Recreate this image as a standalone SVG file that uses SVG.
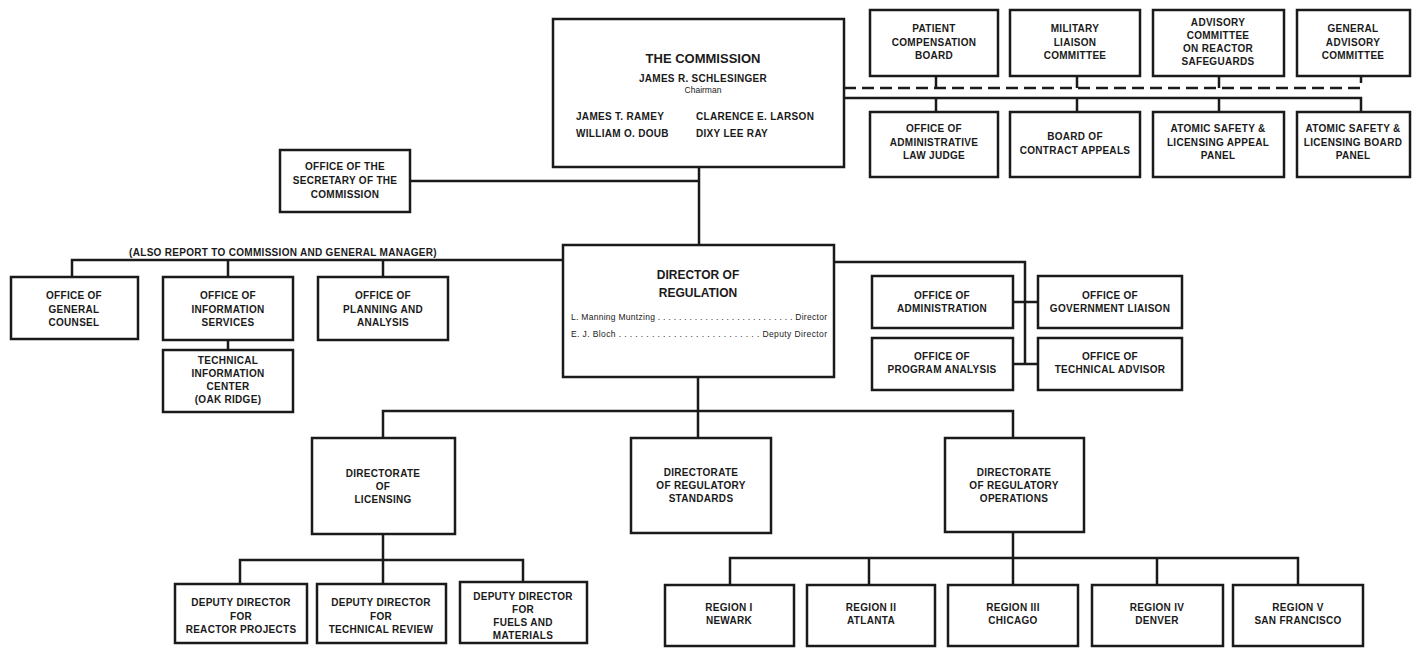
<svg xmlns="http://www.w3.org/2000/svg" width="1423" height="648" viewBox="0 0 1423 648">
<style>
.bx{fill:#fff;stroke:#1a1a1a;stroke-width:2.5}
.ln{fill:none;stroke:#1a1a1a;stroke-width:2.5}
.ds{stroke-dasharray:12 6}
text{font-family:"Liberation Sans",Arial,sans-serif;fill:#1a1a1a}
.t{font-size:10px;font-weight:bold;letter-spacing:0.3px;text-anchor:middle}
.l{font-size:10px;font-weight:bold;letter-spacing:0.3px;text-anchor:start}
.h{font-size:13px;font-weight:bold;text-anchor:middle}
.s{font-size:8.5px}
</style>
<rect width="1423" height="648" fill="#fff"/>
<g id="connectors">
<path class="ln ds" d="M844 88H1361V76M936 88V76M1077 88V76M1219 88V76"/>
<path class="ln" d="M844 98H1361V112M936 98V112M1077 98V112M1219 98V112"/>
<path class="ln" d="M699 167V245M410 181H699"/>
<path class="ln" d="M563 260H72V277M228 260V277M383 260V277M228 340V350"/>
<path class="ln" d="M834 262H1025V364M1013 302H1038M1013 364H1038"/>
<path class="ln" d="M698 377V411M383 438V411H1013V438M698 411V438"/>
<path class="ln" d="M383 534V560M240 584V560H523V582M383 560V584"/>
<path class="ln" d="M1013 532V558M730 585V558H1298V585M869 558V585M1013 558V585M1157 558V585"/>
</g>
<g id="commission">
<rect class="bx" x="553" y="19" width="291" height="148"/>
<text class="h" x="703" y="63">THE COMMISSION</text>
<text class="t" x="703" y="82">JAMES R. SCHLESINGER</text>
<text class="s" x="703" y="93" text-anchor="middle">Chairman</text>
<text class="l" x="576" y="120">JAMES T. RAMEY</text>
<text class="l" x="696" y="120">CLARENCE E. LARSON</text>
<text class="l" x="576" y="137">WILLIAM O. DOUB</text>
<text class="l" x="696" y="137">DIXY LEE RAY</text>
</g>
<g id="patient">
<rect class="bx" x="870" y="10" width="128" height="66"/>
<text class="t" x="934" y="32"><tspan x="934">PATIENT</tspan><tspan x="934" dy="13.5">COMPENSATION</tspan><tspan x="934" dy="13.5">BOARD</tspan></text>
</g>
<g id="military">
<rect class="bx" x="1010" y="10" width="130" height="66"/>
<text class="t" x="1075" y="32"><tspan x="1075">MILITARY</tspan><tspan x="1075" dy="13.5">LIAISON</tspan><tspan x="1075" dy="13.5">COMMITTEE</tspan></text>
</g>
<g id="acrs">
<rect class="bx" x="1153" y="10" width="131" height="66"/>
<text class="t" x="1218" y="26"><tspan x="1218">ADVISORY</tspan><tspan x="1218" dy="13">COMMITTEE</tspan><tspan x="1218" dy="13">ON REACTOR</tspan><tspan x="1218" dy="13">SAFEGUARDS</tspan></text>
</g>
<g id="gac">
<rect class="bx" x="1297" y="10" width="113" height="66"/>
<text class="t" x="1353" y="32"><tspan x="1353">GENERAL</tspan><tspan x="1353" dy="13.5">ADVISORY</tspan><tspan x="1353" dy="13.5">COMMITTEE</tspan></text>
</g>
<g id="alj">
<rect class="bx" x="870" y="112" width="128" height="65"/>
<text class="t" x="934" y="132"><tspan x="934">OFFICE OF</tspan><tspan x="934" dy="13.5">ADMINISTRATIVE</tspan><tspan x="934" dy="13.5">LAW JUDGE</tspan></text>
</g>
<g id="bca">
<rect class="bx" x="1010" y="112" width="130" height="65"/>
<text class="t" x="1075" y="140"><tspan x="1075">BOARD OF</tspan><tspan x="1075" dy="13.5">CONTRACT APPEALS</tspan></text>
</g>
<g id="aslap">
<rect class="bx" x="1153" y="112" width="131" height="65"/>
<text class="t" x="1218" y="132"><tspan x="1218">ATOMIC SAFETY &amp;</tspan><tspan x="1218" dy="13.5">LICENSING APPEAL</tspan><tspan x="1218" dy="13.5">PANEL</tspan></text>
</g>
<g id="aslbp">
<rect class="bx" x="1297" y="112" width="113" height="65"/>
<text class="t" x="1353" y="132"><tspan x="1353">ATOMIC SAFETY &amp;</tspan><tspan x="1353" dy="13.5">LICENSING BOARD</tspan><tspan x="1353" dy="13.5">PANEL</tspan></text>
</g>
<g id="secretary">
<rect class="bx" x="280" y="150" width="130" height="62"/>
<text class="t" x="345" y="170"><tspan x="345">OFFICE OF THE</tspan><tspan x="345" dy="14">SECRETARY OF THE</tspan><tspan x="345" dy="14">COMMISSION</tspan></text>
</g>
<text id="also-note" class="t" x="283" y="256">(ALSO REPORT TO COMMISSION AND GENERAL MANAGER)</text>
<g id="counsel">
<rect class="bx" x="11" y="277" width="127" height="62"/>
<text class="t" x="74" y="299"><tspan x="74">OFFICE OF</tspan><tspan x="74" dy="13.5">GENERAL</tspan><tspan x="74" dy="13.5">COUNSEL</tspan></text>
</g>
<g id="info">
<rect class="bx" x="163" y="277" width="130" height="63"/>
<text class="t" x="228" y="299"><tspan x="228">OFFICE OF</tspan><tspan x="228" dy="13.5">INFORMATION</tspan><tspan x="228" dy="13.5">SERVICES</tspan></text>
</g>
<g id="planning">
<rect class="bx" x="318" y="277" width="130" height="63"/>
<text class="t" x="383" y="299"><tspan x="383">OFFICE OF</tspan><tspan x="383" dy="13.5">PLANNING AND</tspan><tspan x="383" dy="13.5">ANALYSIS</tspan></text>
</g>
<g id="tic">
<rect class="bx" x="163" y="350" width="130" height="62"/>
<text class="t" x="228" y="363.5"><tspan x="228">TECHNICAL</tspan><tspan x="228" dy="13.3">INFORMATION</tspan><tspan x="228" dy="13.3">CENTER</tspan><tspan x="228" dy="13.3">(OAK RIDGE)</tspan></text>
</g>
<g id="director">
<rect class="bx" x="563" y="245" width="271" height="132"/>
<text class="h" x="698" y="279" style="font-size:12px">DIRECTOR OF</text>
<text class="h" x="698" y="297" style="font-size:12px">REGULATION</text>
<text class="s" x="571" y="320" textLength="256" lengthAdjust="spacing">L. Manning Muntzing . . . . . . . . . . . . . . . . . . . . . . . . . . Director</text>
<text class="s" x="571" y="337" textLength="256" lengthAdjust="spacing">E. J. Bloch . . . . . . . . . . . . . . . . . . . . . . . . . . Deputy Director</text>
</g>
<g id="admin">
<rect class="bx" x="872" y="276" width="141" height="52"/>
<text class="t" x="942" y="299"><tspan x="942">OFFICE OF</tspan><tspan x="942" dy="13">ADMINISTRATION</tspan></text>
</g>
<g id="govliaison">
<rect class="bx" x="1038" y="276" width="144" height="52"/>
<text class="t" x="1110" y="299"><tspan x="1110">OFFICE OF</tspan><tspan x="1110" dy="13">GOVERNMENT LIAISON</tspan></text>
</g>
<g id="proganalysis">
<rect class="bx" x="872" y="338" width="141" height="52"/>
<text class="t" x="942" y="360"><tspan x="942">OFFICE OF</tspan><tspan x="942" dy="13">PROGRAM ANALYSIS</tspan></text>
</g>
<g id="techadvisor">
<rect class="bx" x="1038" y="338" width="144" height="52"/>
<text class="t" x="1110" y="360"><tspan x="1110">OFFICE OF</tspan><tspan x="1110" dy="13">TECHNICAL ADVISOR</tspan></text>
</g>
<g id="licensing">
<rect class="bx" x="312" y="438" width="143" height="96"/>
<text class="t" x="383" y="477"><tspan x="383">DIRECTORATE</tspan><tspan x="383" dy="13">OF</tspan><tspan x="383" dy="13">LICENSING</tspan></text>
</g>
<g id="standards">
<rect class="bx" x="631" y="438" width="140" height="95"/>
<text class="t" x="701" y="476"><tspan x="701">DIRECTORATE</tspan><tspan x="701" dy="13">OF REGULATORY</tspan><tspan x="701" dy="13">STANDARDS</tspan></text>
</g>
<g id="operations">
<rect class="bx" x="945" y="438" width="139" height="94"/>
<text class="t" x="1014" y="476"><tspan x="1014">DIRECTORATE</tspan><tspan x="1014" dy="13">OF REGULATORY</tspan><tspan x="1014" dy="13">OPERATIONS</tspan></text>
</g>
<g id="reactor">
<rect class="bx" x="175" y="584" width="132" height="59"/>
<text class="t" x="241" y="606"><tspan x="241">DEPUTY DIRECTOR</tspan><tspan x="241" dy="13.5">FOR</tspan><tspan x="241" dy="13.5">REACTOR PROJECTS</tspan></text>
</g>
<g id="techreview">
<rect class="bx" x="317" y="584" width="129" height="59"/>
<text class="t" x="381" y="606"><tspan x="381">DEPUTY DIRECTOR</tspan><tspan x="381" dy="13.5">FOR</tspan><tspan x="381" dy="13.5">TECHNICAL REVIEW</tspan></text>
</g>
<g id="fuels">
<rect class="bx" x="460" y="582" width="127" height="61"/>
<text class="t" x="523" y="600"><tspan x="523">DEPUTY DIRECTOR</tspan><tspan x="523" dy="13">FOR</tspan><tspan x="523" dy="13">FUELS AND</tspan><tspan x="523" dy="13">MATERIALS</tspan></text>
</g>
<g id="region1">
<rect class="bx" x="665" y="585" width="129" height="61"/>
<text class="t" x="729" y="611"><tspan x="729">REGION I</tspan><tspan x="729" dy="13">NEWARK</tspan></text>
</g>
<g id="region2">
<rect class="bx" x="807" y="585" width="128" height="61"/>
<text class="t" x="871" y="611"><tspan x="871">REGION II</tspan><tspan x="871" dy="13">ATLANTA</tspan></text>
</g>
<g id="region3">
<rect class="bx" x="948" y="585" width="130" height="61"/>
<text class="t" x="1013" y="611"><tspan x="1013">REGION III</tspan><tspan x="1013" dy="13">CHICAGO</tspan></text>
</g>
<g id="region4">
<rect class="bx" x="1092" y="585" width="131" height="61"/>
<text class="t" x="1157" y="611"><tspan x="1157">REGION IV</tspan><tspan x="1157" dy="13">DENVER</tspan></text>
</g>
<g id="region5">
<rect class="bx" x="1233" y="585" width="130" height="61"/>
<text class="t" x="1298" y="611"><tspan x="1298">REGION V</tspan><tspan x="1298" dy="13">SAN FRANCISCO</tspan></text>
</g>
</svg>
